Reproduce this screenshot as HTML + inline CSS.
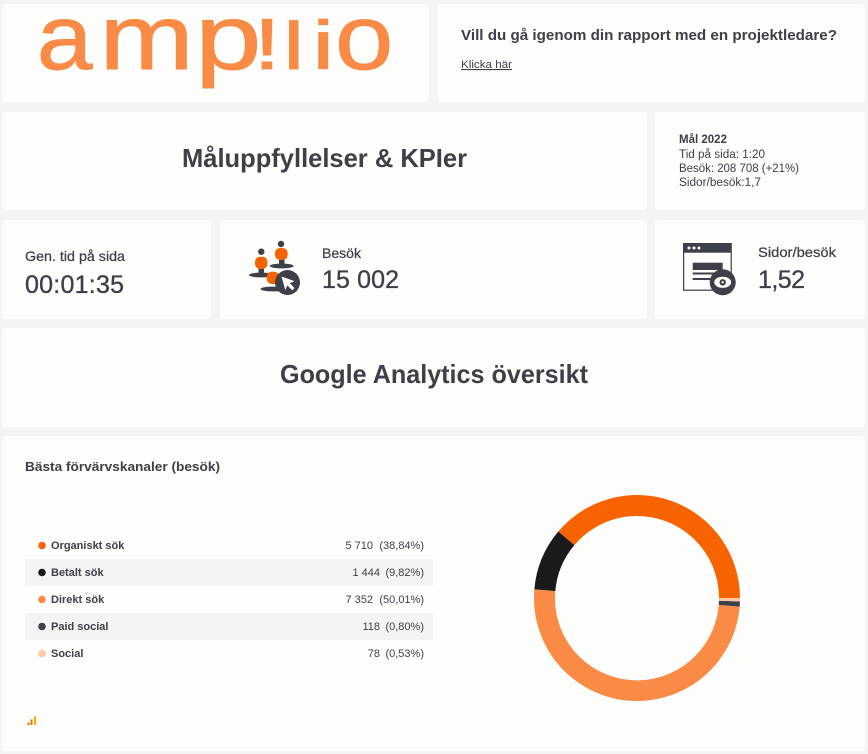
<!DOCTYPE html>
<html lang="sv">
<head>
<meta charset="utf-8">
<title>Måluppfyllelser &amp; KPIer</title>
<style>
html,body{margin:0;padding:0;background:#f3f5f5;width:868px;height:754px;overflow:hidden}
svg{display:block;filter:blur(.3px)}
text{font-family:"Liberation Sans",Arial,sans-serif;fill:#3d4049}
.b{font-weight:700}
.m{stroke:#3d4049;stroke-width:.25}
.v{stroke:#3d4049;stroke-width:.35}
.p{fill:#fdfdfb}
.logo text{fill:#f98b46;stroke:#f98b46;stroke-width:.9;font-size:92px}
</style>
</head>
<body>
<svg xmlns="http://www.w3.org/2000/svg" width="868" height="754" viewBox="0 0 868 754">
  <rect class="p" x="2" y="4" width="427" height="98" rx="3"/>
  <rect class="p" x="438" y="4" width="427" height="98" rx="3"/>
  <rect class="p" x="2" y="112" width="645" height="98" rx="3"/>
  <rect class="p" x="655" y="112" width="210" height="98" rx="3"/>
  <rect class="p" x="2" y="220" width="209" height="99" rx="3"/>
  <rect class="p" x="220" y="220" width="427" height="99" rx="3"/>
  <rect class="p" x="655" y="220" width="210" height="99" rx="3"/>
  <rect class="p" x="2" y="328" width="863" height="99" rx="3"/>
  <rect class="p" x="2" y="436" width="863" height="315" rx="3"/>

  <g class="logo">
    <text transform="translate(36.8 69) scale(1.09 1)">a</text>
    <text transform="translate(99.5 69) scale(1.23 1)">m</text>
    <text transform="translate(195 69) scale(1.3 1)">p</text>
    <text transform="translate(253 69) scale(1.1 .79)">!</text>
    <text transform="translate(283 69) scale(1.05 .73)">l</text>
    <text transform="translate(312 69) scale(1.1 .75)">i</text>
    <text transform="translate(335 69) scale(1.14 1)">o</text>
  </g>

  <text class="b" x="461" y="40" font-size="15" textLength="376" lengthAdjust="spacingAndGlyphs">Vill du gå igenom din rapport med en projektledare?</text>
  <text x="461" y="68" font-size="11" textLength="51" lengthAdjust="spacingAndGlyphs" text-decoration="underline">Klicka här</text>

  <text class="b" x="182" y="167" font-size="26" textLength="285" lengthAdjust="spacingAndGlyphs">Måluppfyllelser &amp; KPIer</text>

  <text class="b" x="679" y="143" font-size="12" textLength="48" lengthAdjust="spacingAndGlyphs">Mål 2022</text>
  <text x="679" y="158" font-size="11.5" textLength="86" lengthAdjust="spacingAndGlyphs">Tid på sida: 1:20</text>
  <text x="679" y="172" font-size="11.5" textLength="120" lengthAdjust="spacingAndGlyphs">Besök: 208 708 (+21%)</text>
  <text x="679" y="186" font-size="11.5" textLength="82" lengthAdjust="spacingAndGlyphs">Sidor/besök:1,7</text>

  <text class="m" x="25" y="261" font-size="14" textLength="100" lengthAdjust="spacingAndGlyphs">Gen. tid på sida</text>
  <text class="v" x="25" y="293" font-size="25" textLength="99" lengthAdjust="spacing">00:01:35</text>

  <g>
    <ellipse cx="261" cy="275" rx="12" ry="2.4" fill="#3d4049"/>
    <rect x="258.5" y="266" width="5.5" height="9" fill="#3d4049"/>
    <circle cx="261.3" cy="251.7" r="3.2" fill="#3d4049"/>
    <rect x="255" y="256.7" width="12.4" height="12.3" rx="5" fill="#f76300"/>
    <ellipse cx="281.7" cy="266" rx="12" ry="2.4" fill="#3d4049"/>
    <rect x="279" y="258" width="5.5" height="8" fill="#3d4049"/>
    <circle cx="281" cy="244" r="3.2" fill="#3d4049"/>
    <rect x="275" y="248" width="12.7" height="12" rx="5" fill="#f76300"/>
    <ellipse cx="273" cy="289" rx="12.5" ry="2.4" fill="#3d4049"/>
    <rect x="266.7" y="271.7" width="12.4" height="12.3" rx="5" fill="#f76300"/>
    <circle cx="287.5" cy="282.5" r="12.5" fill="#3d4049"/>
    <path d="M281.5 276.5l13 4.6-4.6 2 4.6 5-2.2 2.2-5-4.8-2 4.6z" fill="#fdfdfb"/>
  </g>
  <text class="m" x="322" y="258" font-size="14" textLength="39" lengthAdjust="spacingAndGlyphs">Besök</text>
  <text class="v" x="322" y="288" font-size="25" textLength="77" lengthAdjust="spacing">15 002</text>

  <g>
    <rect x="683.6" y="243.6" width="47.6" height="46.6" fill="#fdfdfb" stroke="#3d4049" stroke-width="1.2"/>
    <rect x="683" y="243" width="48.5" height="9.7" fill="#3d4049"/>
    <circle cx="689" cy="248" r="1.5" fill="#fdfdfb"/>
    <circle cx="694" cy="248" r="1.5" fill="#fdfdfb"/>
    <circle cx="699" cy="248" r="1.5" fill="#fdfdfb"/>
    <rect x="692.7" y="262.7" width="30" height="7.3" fill="#3d4049"/>
    <rect x="692.7" y="272.5" width="26" height="2" fill="#3d4049"/>
    <rect x="692.7" y="278" width="20" height="2" fill="#3d4049"/>
    <circle cx="722.7" cy="282.3" r="13" fill="#3d4049"/>
    <ellipse cx="722.7" cy="282.3" rx="8.5" ry="5.5" fill="#fdfdfb"/>
    <circle cx="722.7" cy="282.3" r="3.2" fill="#3d4049"/>
    <circle cx="722.7" cy="282.3" r="1.2" fill="#fdfdfb"/>
  </g>
  <text class="m" x="758" y="257" font-size="14" textLength="78" lengthAdjust="spacingAndGlyphs">Sidor/besök</text>
  <text class="v" x="758" y="288" font-size="25" textLength="47" lengthAdjust="spacing">1,52</text>

  <text class="b" x="280" y="383" font-size="26" textLength="308" lengthAdjust="spacingAndGlyphs">Google Analytics översikt</text>

  <text class="b" x="25" y="471" font-size="13" textLength="195" lengthAdjust="spacingAndGlyphs">Bästa förvärvskanaler (besök)</text>

  <g id="legend"></g>
  <g id="donut"></g>

  <g>
    <rect x="27.5" y="722.5" width="2" height="2.5" fill="#e37400"/>
    <rect x="30.5" y="719.5" width="2" height="5.5" fill="#e37400"/>
    <rect x="34" y="716.5" width="2.2" height="8.5" fill="#f9ab00"/>
  </g>
</svg>
<script>
var categories = ["Organiskt sök", "Betalt sök", "Direkt sök", "Paid social", "Social"];
var visits = [5710, 1444, 7352, 118, 78];
var visitLabels = ["5 710", "1 444", "7 352", "118", "78"];
var shareLabels = ["(38,84%)", "(9,82%)", "(50,01%)", "(0,80%)", "(0,53%)"];
var colors = ["#f76300", "#1a1a1a", "#f98b46", "#3f4149", "#fdc9a7"];

var NS = "http://www.w3.org/2000/svg";
var cx = 637, cy = 598, rOuter = 103, rInner = 82;
var total = visits.reduce(function (a, b) { return a + b; }, 0);

function angleScale(v) { return v / total * Math.PI * 2; }
function pt(r, a) { return (cx + r * Math.sin(a)).toFixed(2) + " " + (cy - r * Math.cos(a)).toFixed(2); }

var donut = document.getElementById("donut");
var angle = Math.PI / 2;
visits.forEach(function (v, i) {
  var sweep = angleScale(v);
  var end = angle - sweep;
  var large = sweep > Math.PI ? 1 : 0;
  var slice = document.createElementNS(NS, "path");
  slice.setAttribute("d", "M" + pt(rOuter, angle) + "A" + rOuter + " " + rOuter + " 0 " + large + " 0 " + pt(rOuter, end) +
    "L" + pt(rInner, end) + "A" + rInner + " " + rInner + " 0 " + large + " 1 " + pt(rInner, angle) + "Z");
  slice.setAttribute("fill", colors[i]);
  
  
  donut.appendChild(slice);
  angle = end;
});

var legend = document.getElementById("legend");
var rowTop = 532, rowH = 27;
function addText(parent, str, x, y, anchor, bold) {
  var t = document.createElementNS(NS, "text");
  t.setAttribute("x", x);
  t.setAttribute("y", y);
  t.setAttribute("font-size", "11");
  t.setAttribute("text-anchor", anchor);
  if (bold) t.setAttribute("class", "b");
  t.textContent = str;
  parent.appendChild(t);
  return t;
}
categories.forEach(function (name, i) {
  var y = rowTop + i * rowH;
  var row = document.createElementNS(NS, "g");
  
  
  if (i % 2 === 1) {
    var bg = document.createElementNS(NS, "rect");
    bg.setAttribute("x", 25);
    bg.setAttribute("y", y);
    bg.setAttribute("width", 408);
    bg.setAttribute("height", rowH);
    bg.setAttribute("fill", "#f3f5f5");
    row.appendChild(bg);
  }
  var dot = document.createElementNS(NS, "circle");
  dot.setAttribute("cx", 42);
  dot.setAttribute("cy", y + 13.5);
  dot.setAttribute("r", 3.8);
  dot.setAttribute("fill", colors[i]);
  row.appendChild(dot);
  addText(row, name, 51, y + 17, "start", true);
  var pct = addText(row, shareLabels[i], 424, y + 17, "end", false);
  var value = addText(row, visitLabels[i], i === 0 || i === 2 ? 373 : 380, y + 17, "end", false);
  legend.appendChild(row);
});
</script>
</body>
</html>
